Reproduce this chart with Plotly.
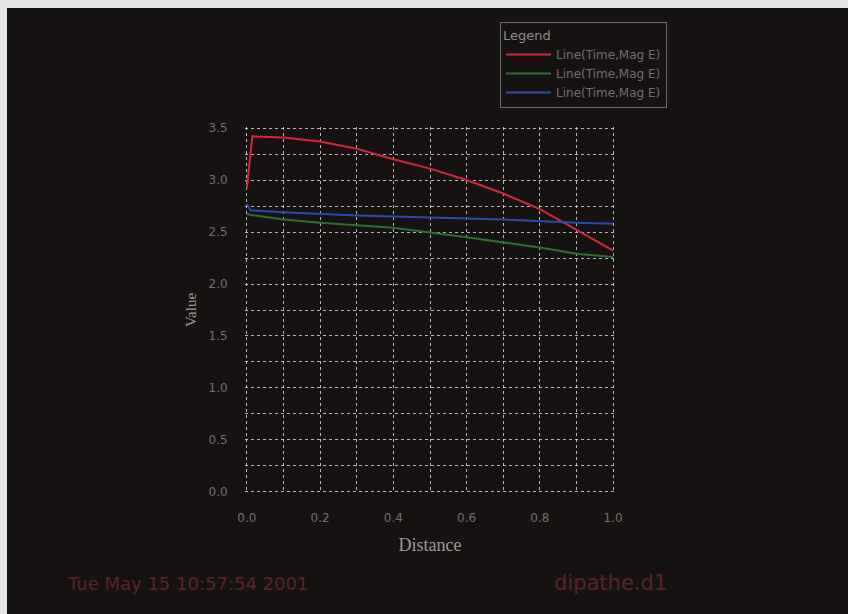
import plotly.graph_objects as go

red_x = [0.0, 0.015, 0.1, 0.2, 0.3, 0.4, 0.5, 0.6, 0.7, 0.8, 0.9, 1.0]
red_y = [2.92, 3.42, 3.41, 3.37, 3.30, 3.20, 3.11, 3.00, 2.87, 2.72, 2.52, 2.32]
green_x = [0.0, 0.1, 0.2, 0.4, 0.6, 0.8, 0.9, 1.0]
green_y = [2.67, 2.62, 2.59, 2.54, 2.45, 2.35, 2.29, 2.26]
blue_x = [0.0, 0.01, 0.1, 0.3, 0.5, 0.7, 0.9, 1.0]
blue_y = [2.77, 2.71, 2.69, 2.66, 2.64, 2.62, 2.59, 2.58]
series_names = ["Line(Time,Mag E)", "Line(Time,Mag E)", "Line(Time,Mag E)"]
footer_left = "Tue May 15 10:57:54 2001"
footer_right = "dipathe.d1"

BG = "#171212"
TXT = "#8a8a8a"
GRID = "rgba(225,225,225,0.8)"

fig = go.Figure()
fig.add_trace(go.Scatter(x=red_x, y=red_y, mode="lines", name=series_names[0],
                         line=dict(color="#d0283a", width=2)))
fig.add_trace(go.Scatter(x=green_x, y=green_y, mode="lines", name=series_names[1],
                         line=dict(color="#2f6e34", width=2)))
fig.add_trace(go.Scatter(x=blue_x, y=blue_y, mode="lines", name=series_names[2],
                         line=dict(color="#2a4ab0", width=2)))

L, R, T, B = 245, 233, 127, 121
W, H = 848, 614
pw, ph = W - L - R, H - T - B

def px(x):
    return (x - L) / pw

def py(y):
    return (H - B - y) / ph

fig.update_layout(
    width=W, height=H,
    margin=dict(l=L, r=R, t=T, b=B),
    paper_bgcolor=BG, plot_bgcolor=BG,
    font=dict(family="DejaVu Sans", color=TXT, size=11),
    showlegend=True,
    legend=dict(
        title=dict(text="Legend", font=dict(color=TXT, size=13)),
        x=px(500), y=py(22), xanchor="left", yanchor="top",
        bgcolor=BG, bordercolor="#6a6a6a", borderwidth=1,
        font=dict(color="#6f6f6f", size=12),
        itemwidth=45,
        tracegroupgap=4,
    ),
    xaxis=dict(
        range=[-0.005, 1.005], tickvals=[0, 0.2, 0.4, 0.6, 0.8, 1.0], tickformat=".1f",
        showgrid=True, gridcolor=GRID, griddash="dot", gridwidth=1,
        minor=dict(tickvals=[0.1, 0.3, 0.5, 0.7, 0.9], showgrid=True, gridcolor=GRID, griddash="dot"),
        zeroline=False, showline=False,
        ticks="outside", ticklen=14, tickcolor=BG,
        tickfont=dict(color="#6f6f6f", size=12),
        title=dict(text="Distance", font=dict(family="Liberation Serif, Times New Roman", size=18, color="#9a9a9a"), standoff=13),
    ),
    yaxis=dict(
        range=[-0.01, 3.51], tickvals=[0, 0.5, 1.0, 1.5, 2.0, 2.5, 3.0, 3.5], tickformat=".1f",
        showgrid=True, gridcolor=GRID, griddash="dot", gridwidth=1,
        minor=dict(tickvals=[0.25, 0.75, 1.25, 1.75, 2.25, 2.75, 3.25], showgrid=True, gridcolor=GRID, griddash="dot"),
        zeroline=False, showline=False,
        ticks="outside", ticklen=14, tickcolor=BG,
        tickfont=dict(color="#6f6f6f", size=12),
        title=dict(text="Value", font=dict(family="Liberation Serif, Times New Roman", size=15, color="#9a9a9a"), standoff=8),
    ),
    shapes=[
        dict(type="rect", xref="paper", yref="paper", x0=px(0), x1=px(W), y0=py(8), y1=py(0),
             fillcolor="#e4e4e4", line=dict(width=0), layer="above"),
        dict(type="rect", xref="paper", yref="paper", x0=px(0), x1=px(7), y0=py(H), y1=py(0),
             fillcolor="#e4e4e4", line=dict(width=0), layer="above"),
    ],
    annotations=[
        dict(text=footer_left, xref="paper", yref="paper", x=px(65), y=py(583), xanchor="left",
             yanchor="middle", showarrow=False, font=dict(color="#5a2228", size=18)),
        dict(text=footer_right, xref="paper", yref="paper", x=px(552), y=py(583), xanchor="left",
             yanchor="middle", showarrow=False, font=dict(color="#5a2228", size=21)),
    ],
)

fig.write_html("out.html", config={"displayModeBar": False})

with open("out.html", "r", encoding="utf-8") as f:
    html = f.read()
html = html.replace("<head>", "<head><style>html,body{margin:0;padding:0;overflow:hidden;background:#171212;}</style>", 1)
with open("out.html", "w", encoding="utf-8") as f:
    f.write(html)
